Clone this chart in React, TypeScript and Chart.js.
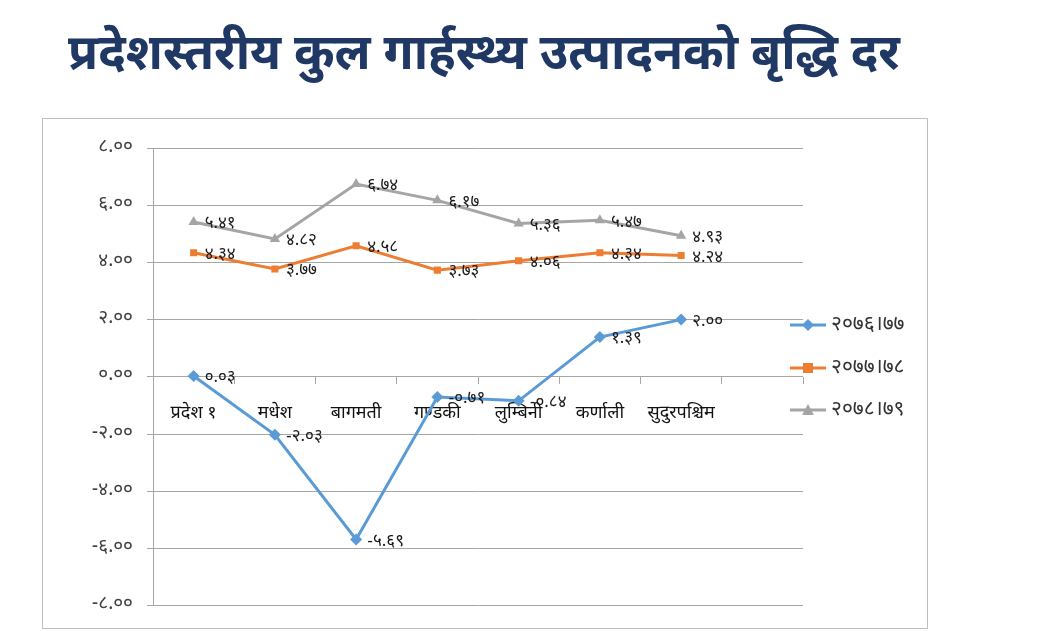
import React, { useEffect, useRef } from "react";
import { Chart, registerables } from "chart.js";

Chart.register(...registerables);

const TITLE = "प्रदेशस्तरीय कुल गार्हस्थ्य उत्पादनको बृद्धि दर";
const categories = ["प्रदेश १", "मधेश", "बागमती", "गण्डकी", "लुम्बिनी", "कर्णाली", "सुदुरपश्चिम", ""];
const seriesNames = ["२०७६।७७", "२०७७।७८", "२०७८।७९"];
const s2076 = [0.03, -2.03, -5.69, -0.71, -0.84, 1.39, 2.0];
const s2077 = [4.34, 3.77, 4.58, 3.73, 4.06, 4.34, 4.24];
const s2078 = [5.41, 4.82, 6.74, 6.17, 5.36, 5.47, 4.93];
const yMin = -8;
const yMax = 8;
const yStep = 2;

const colors = ["#5b9bd5", "#ed7d31", "#a5a5a5"];
const markers = ["rectRot", "rect", "triangle"];
const markerSizes = [6, 5, 6];

const DEVA = "'Noto Sans Devanagari', 'Lohit Devanagari', Mangal, 'Noto Sans', sans-serif";

const devDigits = "०१२३४५६७८९";
const toDev = (s: string) => s.replace(/[0-9]/g, (d) => devDigits[Number(d)]);
const fmt = (v: number) => toDev(v.toFixed(2));

const overlayPlugin = {
  id: "overlay",
  beforeDraw(chart: any) {
    const { ctx } = chart;
    ctx.save();
    ctx.fillStyle = "#ffffff";
    ctx.fillRect(0, 0, chart.width, chart.height);
    ctx.strokeStyle = "#bfbfbf";
    ctx.lineWidth = 1;
    ctx.strokeRect(42.5, 118.5, 885, 510);
    ctx.fillStyle = "#1f3864";
    ctx.font = `bold 49px ${DEVA}`;
    ctx.textAlign = "center";
    ctx.textBaseline = "middle";
    ctx.fillText(TITLE, 484, 60);
    ctx.restore();
  },
  afterDatasetsDraw(chart: any) {
    const { ctx, chartArea } = chart;
    ctx.save();
    ctx.font = `17px ${DEVA}`;
    ctx.fillStyle = "#1a1a1a";
    ctx.textAlign = "left";
    ctx.textBaseline = "middle";
    chart.data.datasets.forEach((ds: any, i: number) => {
      const meta = chart.getDatasetMeta(i);
      meta.data.forEach((pt: any, j: number) => {
        const v = ds.data[j];
        if (v === null || v === undefined) return;
        ctx.fillText(fmt(v), pt.x + 11, pt.y + 3);
      });
    });
    // legend
    const lx = chartArea.right - 13;
    const ys = [chartArea.top + 177, chartArea.top + 220, chartArea.top + 262];
    chart.data.datasets.forEach((ds: any, i: number) => {
      const y = ys[i];
      ctx.strokeStyle = colors[i];
      ctx.lineWidth = 3;
      ctx.beginPath();
      ctx.moveTo(lx, y);
      ctx.lineTo(lx + 36, y);
      ctx.stroke();
      ctx.fillStyle = colors[i];
      const m = markers[i];
      const cx = lx + 18;
      ctx.beginPath();
      if (m === "rectRot") {
        ctx.moveTo(cx, y - 6); ctx.lineTo(cx + 6, y); ctx.lineTo(cx, y + 6); ctx.lineTo(cx - 6, y); ctx.closePath();
      } else if (m === "rect") {
        ctx.rect(cx - 5, y - 5, 10, 10);
      } else {
        ctx.moveTo(cx, y - 6); ctx.lineTo(cx + 6, y + 5); ctx.lineTo(cx - 6, y + 5); ctx.closePath();
      }
      ctx.fill();
      ctx.fillStyle = "#333333";
      ctx.font = `21px ${DEVA}`;
      ctx.fillText(ds.label, lx + 41, y + 1);
    });
    ctx.restore();
  },
};

export default function App() {
  const ref = useRef<HTMLCanvasElement | null>(null);
  useEffect(() => {
    document.body.style.margin = "0";
    const series = [s2076, s2077, s2078];
    const chart = new Chart(ref.current as HTMLCanvasElement, {
      type: "line",
      data: {
        labels: categories,
        datasets: series.map((d, i) => ({
          label: seriesNames[i],
          data: d,
          borderColor: colors[i],
          backgroundColor: colors[i],
          borderWidth: 3,
          pointStyle: markers[i] as any,
          pointRadius: markerSizes[i],
          pointBorderWidth: 0,
          pointBackgroundColor: colors[i],
          tension: 0,
          fill: false,
        })),
      },
      options: {
        animation: false,
        responsive: false,
        maintainAspectRatio: false,
        layout: { padding: { left: 80, right: 247, top: 148, bottom: 23 } },
        plugins: { legend: { display: false }, title: { display: false }, tooltip: { enabled: false } },
        scales: {
          x: {
            type: "category",
            position: { y: 0 } as any,
            offset: true,
            grid: { offset: true, drawOnChartArea: false, drawTicks: true, tickLength: 7, color: "#a6a6a6" },
            border: { display: false },
            ticks: {
              autoSkip: false,
              maxRotation: 0,
              padding: 20,
              color: "#111111",
              font: { family: DEVA, size: 18 },
            },
          },
          y: {
            min: yMin,
            max: yMax,
            afterFit: (s: any) => { s.width = 73; },
            grid: { color: "#a6a6a6", tickLength: 6 },
            border: { color: "#a6a6a6" },
            ticks: {
              stepSize: yStep,
              padding: 14,
              color: "#404040",
              font: { family: DEVA, size: 19 },
              callback: (v: any) => fmt(Number(v)),
            },
          },
        },
      },
      plugins: [overlayPlugin],
    });
    return () => chart.destroy();
  }, []);
  return (
    <div style={{ position: "relative", width: 1050, height: 631 }}>
      <canvas ref={ref} width={1050} height={631} style={{ display: "block" }} />
    </div>
  );
}
